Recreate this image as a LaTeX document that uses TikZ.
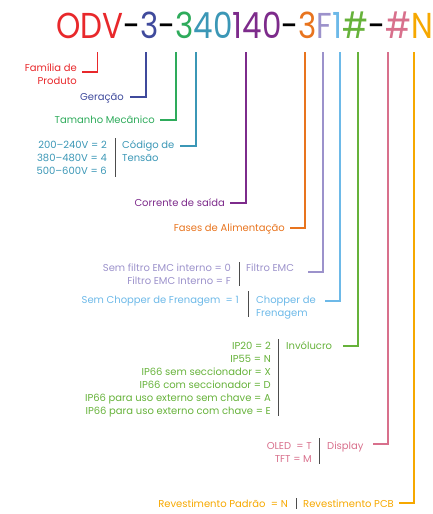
\documentclass[tikz,border=0pt]{standalone}
\usepackage{fontspec}
\setmainfont{Poppins}
\newfontfamily\codefont[FakeStretch=0.86]{Poppins}
\definecolor{cRed}{HTML}{E8282B}
\definecolor{cBlue}{HTML}{3F4A9C}
\definecolor{cGreen}{HTML}{2EAB5B}
\definecolor{cTeal}{HTML}{3B97B6}
\definecolor{cPurple}{HTML}{7D2B8B}
\definecolor{cOrange}{HTML}{E8741E}
\definecolor{cLav}{HTML}{9C92CB}
\definecolor{cSky}{HTML}{6DB9E8}
\definecolor{cLime}{HTML}{66B23A}
\definecolor{cPink}{HTML}{D8708C}
\definecolor{cGold}{HTML}{F6A800}
\tikzset{
  lbl/.style={inner sep=0pt, font=\fontsize{10}{13}\selectfont, text=#1},
  vals/.style={lbl=#1, align=right, anchor=base east},
  nm/.style={lbl=#1, align=left, anchor=base west},
  lead/.style={draw=#1, line width=1.4pt},
  sep/.style={draw=black!70, line width=0.9pt}
}
\begin{document}
\begin{tikzpicture}[x=1pt,y=-1pt]
  \useasboundingbox (0,0) rectangle (433,514);
  % code
  \node[inner sep=0pt, anchor=base west, font=\codefont\fontsize{36}{36}\selectfont] (code) at (56,38)
    {\textcolor{cRed}{ODV}-\textcolor{cBlue}{3}-\textcolor{cGreen}{3}\textcolor{cTeal}{40}\textcolor{cPurple}{140}-\textcolor{cOrange}{3}\textcolor{cLav}{F}\textcolor{cSky}{1}\textcolor{cLime}{\#}-\textcolor{cPink}{\#}\textcolor{cGold}{N}};
  % top ends of the leads
  \coordinate (tRed) at (97.5,52);
  \coordinate (tBlue) at (146,52);
  \coordinate (tGreen) at (176,52);
  \coordinate (tTeal) at (196,52);
  \coordinate (tPurple) at (246,52);
  \coordinate (tOrange) at (305,52);
  \coordinate (tLav) at (323,52);
  \coordinate (tSky) at (340,52);
  \coordinate (tLime) at (358,52);
  \coordinate (tPink) at (388,52);
  \coordinate (tGold) at (414,52);
  % labels (y = baseline of the last line)
  \node[vals=cRed] (familia) at (77,84.5) {Família de\\Produto};
  \node[vals=cBlue] (geracao) at (124,100.5) {Geração};
  \node[vals=cGreen] (tamanho) at (155,123.5) {Tamanho Mecânico};
  \node[vals=cTeal] (tensaoV) at (107,174.5) {200–240V = 2\\380–480V = 4\\500–600V = 6};
  \node[nm=cTeal] (tensao) at (122,161.5) {Código de\\Tensão};
  \node[vals=cPurple] (corrente) at (225,206.5) {Corrente de saída};
  \node[vals=cOrange] (fases) at (285,231.5) {Fases de Alimentação};
  \node[vals=cLav] (emcV) at (231,284.5) {Sem filtro EMC interno = 0\\Filtro EMC Interno = F};
  \node[nm=cLav] (emc) at (246,271.5) {Filtro EMC};
  \node[vals=cSky] (chopperV) at (239,303.5) {Sem Chopper de Frenagem \ = 1};
  \node[nm=cSky] (chopper) at (256,316.5) {Chopper de\\Frenagem};
  \node[vals=cLime] (invV) at (271,414.5) {IP20 = 2\\IP55 = N\\IP66 sem seccionador = X\\IP66 com seccionador = D\\IP66 para uso externo sem chave = A\\IP66 para uso externo com chave = E};
  \node[nm=cLime] (inv) at (286,349.5) {Invólucro};
  \node[vals=cPink] (dispV) at (312,462.5) {OLED \ = T\\TFT = M};
  \node[nm=cPink] (disp) at (327,449.5) {Display};
  \node[vals=cGold] (pcbV) at (288,507.5) {Revestimento Padrão \ = N};
  \node[nm=cGold] (pcb) at (303,507.5) {Revestimento PCB};
  % bottom ends of the leads
  \coordinate (eRed) at (82,72);
  \coordinate (eBlue) at (130,97);
  \coordinate (eGreen) at (160,120);
  \coordinate (eTeal) at (180,146);
  \coordinate (ePurple) at (230,203);
  \coordinate (eOrange) at (290,228);
  \coordinate (eLav) at (308,272);
  \coordinate (eSky) at (325,301);
  \coordinate (eLime) at (343,346);
  \coordinate (ePink) at (373,444);
  \coordinate (eGold) at (399,503);
  \draw[lead=cRed] (tRed) |- (eRed);
  \draw[lead=cBlue] (tBlue) |- (eBlue);
  \draw[lead=cGreen] (tGreen) |- (eGreen);
  \draw[lead=cTeal] (tTeal) |- (eTeal);
  \draw[lead=cPurple] (tPurple) |- (ePurple);
  \draw[lead=cOrange] (tOrange) |- (eOrange);
  \draw[lead=cLav] (tLav) |- (eLav);
  \draw[lead=cSky] (tSky) |- (eSky);
  \draw[lead=cLime] (tLime) |- (eLime);
  \draw[lead=cPink] (tPink) |- (ePink);
  \draw[lead=cGold] (tGold) |- (eGold);
  % separators
  \draw[sep] (115,138) -- (115,177);
  \draw[sep] (239,262) -- (239,286);
  \draw[sep] (248,291) -- (248,317);
  \draw[sep] (278,339) -- (278,416);
  \draw[sep] (319,438) -- (319,464);
  \draw[sep] (296,498) -- (296,509);
\end{tikzpicture}
\end{document}
